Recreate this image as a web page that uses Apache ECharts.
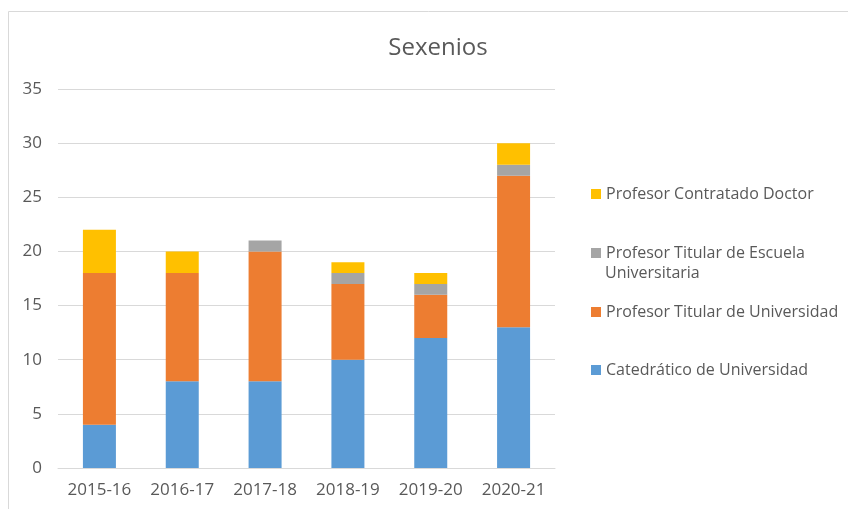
<!DOCTYPE html>
<html><head><meta charset="utf-8">
<script src="https://cdn.jsdelivr.net/npm/echarts@6/dist/echarts.min.js"></script>
<style>html,body{margin:0;padding:0;background:#fff}#c{width:848px;height:509px}</style>
</head><body><div id="c"></div>
<script>
const categories = ['2015-16','2016-17','2017-18','2018-19','2019-20','2020-21'];
const catedratico = [4, 8, 8, 10, 12, 13];
const titularUniv = [14, 10, 12, 7, 4, 14];
const titularEscuela = [0, 0, 1, 1, 1, 1];
const contratado = [4, 2, 0, 1, 1, 2];
const names = ['Catedrático de Universidad','Profesor Titular de Universidad','Profesor Titular de Escuela Universitaria','Profesor Contratado Doctor'];
const colors = ['#5B9BD5','#ED7D31','#A5A5A5','#FFC000'];
const values = [catedratico, titularUniv, titularEscuela, contratado];

const font = '"Open Sans", sans-serif';
const chart = echarts.init(document.getElementById('c'));
const legTop = {3:181, 2:240, 1:299, 0:357};
chart.setOption({
  animation:false,
  title:{text:'Sexenios', left:433, top:31, textAlign:'center',
    textStyle:{fontFamily:font, fontSize:24, fontWeight:'normal', color:'#595959'}},
  grid:{left:58, right:293, top:89, bottom:41},
  xAxis:{type:'category', data:categories,
    axisLine:{lineStyle:{color:'#D9D9D9'}}, axisTick:{show:false},
    axisLabel:{fontFamily:font, fontSize:17, color:'#595959', margin:14, interval:0}},
  yAxis:{type:'value', min:0, max:35, interval:5,
    axisLine:{show:false}, axisTick:{show:false},
    splitLine:{lineStyle:{color:'#D9D9D9', width:1}},
    axisLabel:{fontFamily:font, fontSize:17, color:'#595959', margin:16}},
  legend:[3,2,1,0].map(i=>({
    data:[names[i]], orient:'vertical', left:586, top:legTop[i],
    itemWidth:10, itemHeight:10, icon:'rect', selectedMode:false, itemGap:0,
    formatter: n => n==='Profesor Titular de Escuela Universitaria' ? 'Profesor Titular de Escuela' : n,
    textStyle:{fontFamily:font, fontSize:16, color:'#595959'}
  })),
  graphic:[
    {type:'rect', shape:{x:8.5, y:11.5, width:850, height:510}, style:{fill:'none', stroke:'#D9D9D9', lineWidth:1}, silent:true},
    {type:'text', left:605, top:265, style:{text:'Universitaria', font:'16px '+font, fill:'#595959'}}
  ],
  series: values.map((v,i)=>({
    name:names[i], type:'bar', stack:'total', data:v, barWidth:33,
    itemStyle:{color:colors[i]}
  }))
});
</script></body></html>
